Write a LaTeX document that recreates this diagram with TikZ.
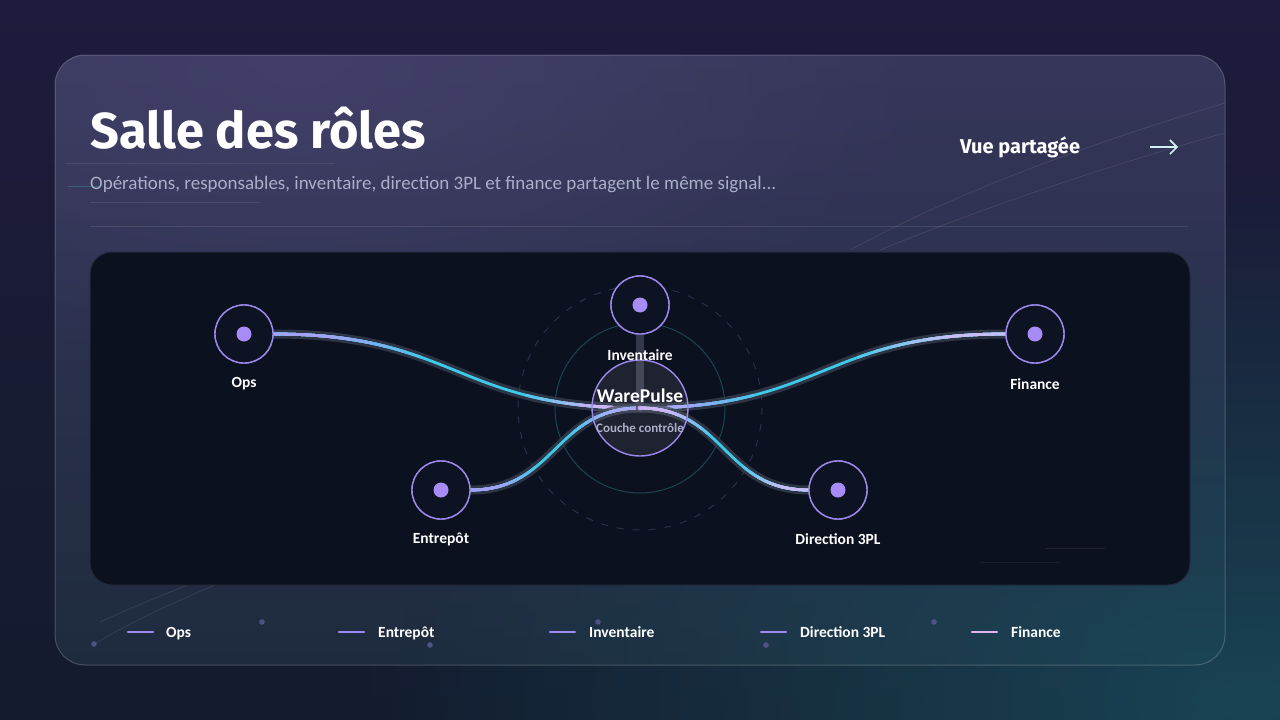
\documentclass[tikz,border=0pt]{standalone}
\usepackage{fontspec}
\setmainfont{Carlito}
\newfontfamily\titlefont{Fira Sans}
\usetikzlibrary{fadings,arrows.meta}
\tikzfading[name=radfade, inner color=transparent!0, outer color=transparent!100]
\definecolor{bgA}{HTML}{1E1B3C}
\definecolor{bgB}{HTML}{131B2E}
\definecolor{tealglow}{HTML}{1A4858}
\definecolor{cardA}{HTML}{36365A}
\definecolor{cardB}{HTML}{1E2B3E}
\definecolor{cardglow}{HTML}{45426C}
\definecolor{panelc}{HTML}{0C1120}
\definecolor{panelb}{HTML}{232B3E}
\definecolor{nodefill}{HTML}{0D1322}
\definecolor{ringc}{HTML}{9C88EA}
\definecolor{dotc}{HTML}{A88CF5}
\definecolor{lav}{HTML}{A3A3F6}
\definecolor{lavw}{HTML}{C6BEF4}
\definecolor{cyanl}{HTML}{3CCAE8}
\definecolor{pinkl}{HTML}{CDB0F4}
\definecolor{subt}{HTML}{A9AFC9}
\definecolor{glowc}{HTML}{363D4E}
\definecolor{barc}{HTML}{3A4052}
\definecolor{tring}{HTML}{1B4453}
\definecolor{dring}{HTML}{263248}
\definecolor{legl}{HTML}{9D8CF0}
\definecolor{legp}{HTML}{E2B3EE}
\definecolor{decdot}{HTML}{4D5384}
\definecolor{arrc}{HTML}{CFEFF2}
\newcommand\signal[8]{%
  \draw[glowline] (#1) .. controls +#2 and +#3 .. (#4);
  \draw[sigline, cyanl] (#1) .. controls +#2 and +#3 .. (#4);
  \foreach \f/\m in {1/20,0.88/38,0.76/56,0.64/74,0.52/90,0.40/100}{%
    \pgfmathsetmacro\lA{\f*#7}%
    \draw[sigline, #5!\m!cyanl, dash pattern=on \lA pt off 3000pt] (#1) .. controls +#2 and +#3 .. (#4);
  }
  \foreach \f/\m in {1/20,0.88/38,0.76/56,0.64/74,0.52/90,0.40/100}{%
    \pgfmathsetmacro\lB{\f*#8}%
    \draw[sigline, #6!\m!cyanl, dash pattern=on \lB pt off 3000pt] (#4) .. controls +#3 and +#2 .. (#1);
  }
}
\begin{document}
\begin{tikzpicture}[x=1pt,y=-1pt,
  role/.style={circle, draw=ringc, line width=1.4pt, fill=nodefill, minimum size=58pt, inner sep=0pt},
  roledot/.style={circle, fill=dotc, minimum size=15pt, inner sep=0pt},
  lbl/.style={font=\bfseries\fontsize{15.5}{18}\selectfont, text=white},
  leglbl/.style={font=\bfseries\fontsize{15.5}{18}\selectfont, text=white, anchor=base west, inner sep=0pt},
  legline/.style={line width=2.4pt, line cap=round},
  glowline/.style={line width=9pt, draw=glowc, opacity=0.8, line cap=round},
  sigline/.style={line width=2.8pt, line cap=round},
  deco/.style={draw=white, opacity=0.09, line width=0.8pt},
  decodot/.style={fill=decdot},
]
\useasboundingbox (0,0) rectangle (1280,720);
% background
\begin{scope}
\clip (0,0) rectangle (1280,720);
\shade[top color=bgA, bottom color=bgB] (0,0) rectangle (1280,720);
\fill[tealglow, path fading=radfade, opacity=0.9] (1250,700) ellipse (900 and 520);
\end{scope}
% card
\begin{scope}
\clip[rounded corners=30pt] (55,55) rectangle (1225,665);
\shade[top color=cardA, bottom color=cardB] (55,55) rectangle (1225,665);
\fill[cardglow, path fading=radfade, opacity=0.8] (300,70) ellipse (650 and 300);
\fill[tealglow, path fading=radfade, opacity=0.85] (1200,660) ellipse (800 and 420);
% decorative faint lines
\draw[deco] (850,250) .. controls (960,190) and (1100,140) .. (1235,100);
\draw[deco] (880,250) .. controls (990,205) and (1110,165) .. (1235,130);
\draw[deco] (100,622) .. controls (170,590) and (230,570) .. (300,540);
\draw[deco] (94,644) .. controls (170,600) and (240,575) .. (330,540);
\draw[deco] (65,163) -- (335,163);
\draw[deco] (90,202) -- (260,202);
\draw[draw=cyanl, opacity=0.25, line width=1pt] (68,186) -- (100,186);
\end{scope}
\draw[white, opacity=0.2, line width=1pt, rounded corners=30pt] (55,55) rectangle (1225,665);
\draw[white, opacity=0.10, line width=1pt] (90,226) -- (1188,226);
% header
\node[anchor=base west, inner sep=0pt, text=white, font=\titlefont\bfseries\fontsize{50.5}{56}\selectfont] (title) at (90,148) {Salle des rôles};
\node[anchor=base west, inner sep=0pt, text=subt, font=\fontsize{19}{22}\selectfont] (subtitle) at (90,189) {Opérations, responsables, inventaire, direction 3PL et finance partagent le même signal...};
\node[anchor=west, inner sep=0pt, text=white, font=\titlefont\bfseries\fontsize{20}{24}\selectfont] (vue) at (960,147) {Vue partagée};
\coordinate (arrS) at (1150,147);
\coordinate (arrE) at (1178,147);
\draw[arrc, line width=1.6pt, -{Straight Barb[length=7pt, width=14pt]}] (arrS) -- (arrE);
% panel
\fill[panelc, rounded corners=22pt] (90,252) rectangle (1190,585);
\draw[panelb, line width=1pt, rounded corners=22pt] (90,252) rectangle (1190,585);
\draw[white, opacity=0.08, line width=1pt] (1045,548) -- (1105,548);
\draw[white, opacity=0.06, line width=1pt] (980,562) -- (1060,562);
% rings around core
\coordinate (cc) at (640,408);
\draw[dring, line width=1pt, dash pattern=on 7pt off 9pt] (cc) circle (122);
\draw[tring, line width=1pt] (cc) circle (85);
% nodes (placed first for anchors)
\node[role] (ops) at (244,334) {};
\node[role] (inv) at (640,305) {};
\node[role] (fin) at (1035,334) {};
\node[role] (ent) at (441,490) {};
\node[role] (dir) at (838,490) {};
\node[circle, minimum size=96pt, inner sep=0pt] (core) at (cc) {};
% inventory bar
\draw[barc, line width=8pt, opacity=0.85, line cap=round] (inv.south) -- (core.center);
% signal curves
\signal{ops.east}{(183,0)}{(-184,0)}{core.center}{lav}{pinkl}{150}{115}
\signal{fin.west}{(-183,0)}{(184,0)}{core.center}{lavw}{lav}{150}{115}
\signal{ent.east}{(85,0)}{(-85,0)}{core.center}{lav}{lav}{70}{75}
\signal{dir.west}{(-85,0)}{(85,0)}{core.center}{lavw}{pinkl}{70}{75}
% redraw nodes on top
\foreach \n in {ops,inv,fin,ent,dir}{
  \node[role] at (\n) {};
  \node[roledot] (\n dot) at (\n) {};
}
\node[circle, draw=ringc, line width=1.4pt, fill=white, fill opacity=0.08, minimum size=96pt, inner sep=0pt] (coreRing) at (cc) {};
\fill[pinkl, opacity=0.7] (cc) circle (2.5);
\node[text=white, font=\bfseries\fontsize{19.5}{22}\selectfont] (coreT) at (640,396) {WarePulse};
\node[text=subt, font=\bfseries\fontsize{13}{15}\selectfont] (coreS) at (640,428) {Couche contrôle};
% labels
\node[lbl] (opsL) at (244,384) {Ops};
\node[lbl] (invL) at (640,355) {Inventaire};
\node[lbl] (finL) at (1035,384) {Finance};
\node[lbl] (entL) at (441,539) {Entrepôt};
\node[lbl] (dirL) at (838,539) {Direction 3PL};
% legend
\draw[legline, legl] (128,632) -- (153,632);
\node[leglbl] (lg1) at (166,637) {Ops};
\draw[legline, legl] (339,632) -- (364,632);
\node[leglbl] (lg2) at (378,637) {Entrepôt};
\draw[legline, legl] (550,632) -- (575,632);
\node[leglbl] (lg3) at (589,637) {Inventaire};
\draw[legline, legl] (761,632) -- (786,632);
\node[leglbl] (lg4) at (800,637) {Direction 3PL};
\draw[legline, legp] (972,632) -- (997,632);
\node[leglbl] (lg5) at (1011,637) {Finance};
% decorative dots
\foreach \p in {(262,622),(94,644),(430,645),(598,622),(766,645),(934,622)}{
  \fill[decodot] \p circle (2.8);
}
\end{tikzpicture}
\end{document}
